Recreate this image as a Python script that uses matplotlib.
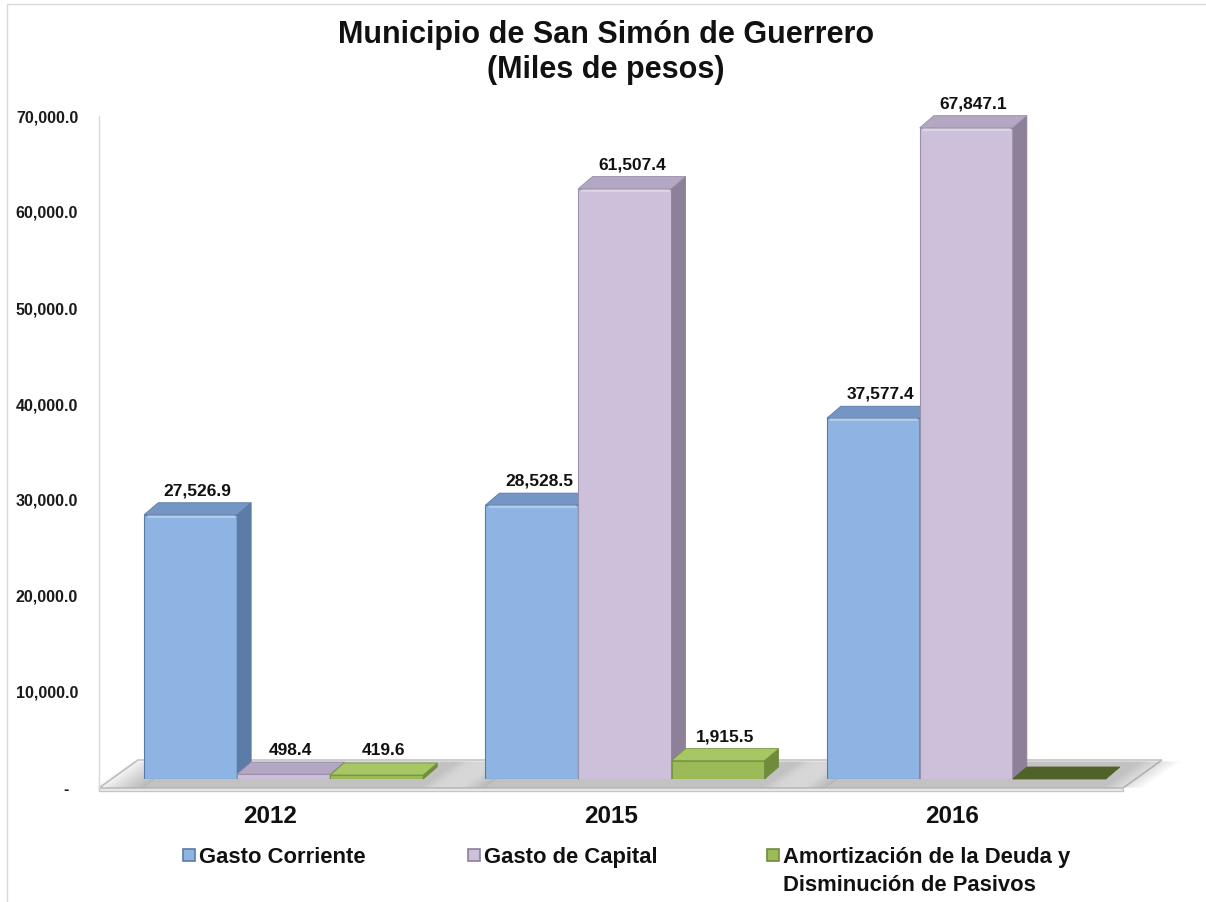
import matplotlib
matplotlib.use("Agg")
import matplotlib.pyplot as plt
from matplotlib.patches import Polygon, Rectangle

# ---------------- data ----------------
years = ["2012", "2015", "2016"]
gasto_corriente = [27526.9, 28528.5, 37577.4]
gasto_capital = [498.4, 61507.4, 67847.1]
amortizacion = [419.6, 1915.5, 0.0]
series_labels = ["Gasto Corriente", "Gasto de Capital",
                 "Amortización de la Deuda y\nDisminución de Pasivos"]
y_ticks = [0, 10000, 20000, 30000, 40000, 50000, 60000, 70000]
y_tick_labels = ["-  ", "10,000.0", "20,000.0", "30,000.0", "40,000.0",
                 "50,000.0", "60,000.0", "70,000.0"]
title_text = "Municipio de San Simón de Guerrero\n(Miles de pesos)"

# ---------------- style ----------------
FONT = ["Liberation Sans", "DejaVu Sans"]
plt.rcParams["font.family"] = FONT
front_colors = ["#8DB4E2", "#CCC0DA", "#9BBB59"]
side_colors = ["#5C7CA7", "#8C8198", "#6F8B3C"]
top_colors = ["#7595C5", "#B3A7C3", "#A7C765"]
edge_colors = ["#5A7AA6", "#9A8FA8", "#7A9840"]
zero_color = "#4F6228"

W, H = 1206, 902
fig = plt.figure(figsize=(W / 100, H / 100), dpi=100)
fig.patch.set_facecolor("white")

AX_L, AX_R, AX_T, AX_B = 99, 1123, 116, 788
BAR_SHIFT_X, BAR_SHIFT_Y = 14, 9
ax = fig.add_axes([AX_L / W, 1 - AX_B / H, (AX_R - AX_L) / W, (AX_B - AX_T) / H])
axb = fig.add_axes([(AX_L + BAR_SHIFT_X) / W, 1 - (AX_B - BAR_SHIFT_Y) / H,
                    (AX_R - AX_L) / W, (AX_B - AX_T) / H])
XMIN, XMAX, YMIN, YMAX = -0.5, 2.5, 0, 70000
for a in (ax, axb):
    a.set_xlim(XMIN, XMAX)
    a.set_ylim(YMIN, YMAX)
axb.axis("off")
axb.patch.set_alpha(0)

xpp = (XMAX - XMIN) / (AX_R - AX_L)   # data units per pixel (x)
ypp = (YMAX - YMIN) / (AX_B - AX_T)   # data units per pixel (y)

# chart border
fig.patches.append(Rectangle((7 / W, -0.1), 1.2, 1 - 4 / H + 0.1, transform=fig.transFigure,
                             fill=False, ec="#D9D9D9", lw=1.0))

# axes styling
for s in ["top", "right", "bottom"]:
    ax.spines[s].set_visible(False)
ax.spines["left"].set_color("#DADADA")
ax.spines["left"].set_linewidth(1.0)
ax.set_yticks(y_ticks)
ax.set_yticklabels(y_tick_labels, fontsize=11.5, fontweight="bold", color="#1A1A1A")
ax.tick_params(axis="y", length=0, pad=15)
ax.set_xticks(range(len(years)))
ax.set_xticklabels(years, fontsize=17.5, fontweight="bold", color="#111111")
ax.tick_params(axis="x", length=0, pad=12)

# floor
FL_DX, FL_DY = 39 * xpp, 28 * ypp
floor = Polygon([(XMIN, 0), (XMAX, 0), (XMAX + FL_DX, FL_DY), (XMIN + FL_DX, FL_DY)],
                closed=True, fc="white", ec="#C4C4C4", lw=1.2, clip_on=False, zorder=1)
ax.add_patch(floor)
thick = 3 * ypp
ax.add_patch(Polygon([(XMIN, 0), (XMAX, 0), (XMAX, -thick), (XMIN, -thick)], closed=True,
                     fc="#F2F2F2", ec="#C4C4C4", lw=1.0, clip_on=False, zorder=1))

# floor shading near each group
w = 0.2725
n_series = 3
def floor_strip(x1, x2, alpha):
    ax.add_patch(Polygon([(x1, 0.5 * ypp), (x2, 0.5 * ypp), (x2 + FL_DX * 0.95, FL_DY * 0.95),
                          (x1 + FL_DX * 0.95, FL_DY * 0.95)], closed=True, fc="#6E6E6E",
                         ec="none", alpha=alpha, clip_on=False, zorder=2))

for i in range(len(years)):
    g_left = i - 1.5 * w + BAR_SHIFT_X * xpp
    g_right = i + 1.5 * w + BAR_SHIFT_X * xpp
    ramp_l = 50 * xpp
    ramp_r = 40 * xpp
    n = 14
    for k in range(n):
        xa = g_left - ramp_l + ramp_l * k / n
        xb = g_left - ramp_l + ramp_l * (k + 1) / n
        floor_strip(xa, xb, 0.5 * (k + 1) / n)
    floor_strip(g_left, g_right, 0.42)
    for k in range(n):
        xa = g_right + ramp_r * k / n
        xb = g_right + ramp_r * (k + 1) / n
        floor_strip(xa, xb, 0.42 * (1 - (k + 1) / n))

# bars
ddx, ddy = 14 * xpp, 12 * ypp
series_values = [gasto_corriente, gasto_capital, amortizacion]
z = 10
for i in range(len(years)):
    for s in range(n_series):
        v = series_values[s][i]
        c = i + (s - 1) * w
        x0, x1 = c - w / 2, c + w / 2
        if v > 0:
            axb.bar(c, v, w, color=front_colors[s], edgecolor=edge_colors[s], lw=0.8, zorder=z)
            axb.add_patch(Polygon([(x1, 0), (x1 + ddx, ddy), (x1 + ddx, v + ddy), (x1, v)],
                                  closed=True, fc=side_colors[s], ec=side_colors[s], lw=0.6,
                                  zorder=z + 1, clip_on=False))
            axb.add_patch(Polygon([(x0, v), (x1, v), (x1 + ddx, v + ddy), (x0 + ddx, v + ddy)],
                                  closed=True, fc=top_colors[s], ec=edge_colors[s], lw=0.6,
                                  zorder=z + 2, clip_on=False))
            if v > 5000:
                axb.plot([x0 + 0.01, x1 - 0.01], [v - 1.2 * ypp, v - 1.2 * ypp],
                         color="white", alpha=0.35, lw=2, zorder=z + 3, solid_capstyle="round")
            axb.annotate(f"{v:,.1f}", xy=(c + ddx / 2, v + ddy), xytext=(0, 12),
                         textcoords="offset pixels", ha="center", va="center",
                         fontsize=12.5, fontweight="bold", color="#111111",
                         zorder=100, annotation_clip=False)
        else:
            axb.add_patch(Polygon([(x0, v), (x1, v), (x1 + ddx, v + ddy), (x0 + ddx, v + ddy)],
                                  closed=True, fc=zero_color, ec=zero_color, lw=0.6,
                                  zorder=z + 2, clip_on=False))
        z += 5

# title
fig.text(606 / W, 1 - 20 / H, title_text, ha="center", va="top", fontsize=22,
         fontweight="bold", color="#111111", linespacing=1.22)

# legend (manual)
leg_x = [183, 468, 767]
leg_y = 855
for s in range(n_series):
    fig.patches.append(Rectangle(((leg_x[s]) / W, 1 - (leg_y + 6) / H), 12 / W, 12 / H,
                                 transform=fig.transFigure, fc=front_colors[s],
                                 ec=side_colors[s], lw=1.2))
    fig.text((leg_x[s] + 16) / W, 1 - (leg_y - 8) / H, series_labels[s], ha="left", va="top",
             fontsize=15.8, fontweight="bold", color="#111111", linespacing=1.45)

fig.savefig("out.png", dpi=100, facecolor="white")
